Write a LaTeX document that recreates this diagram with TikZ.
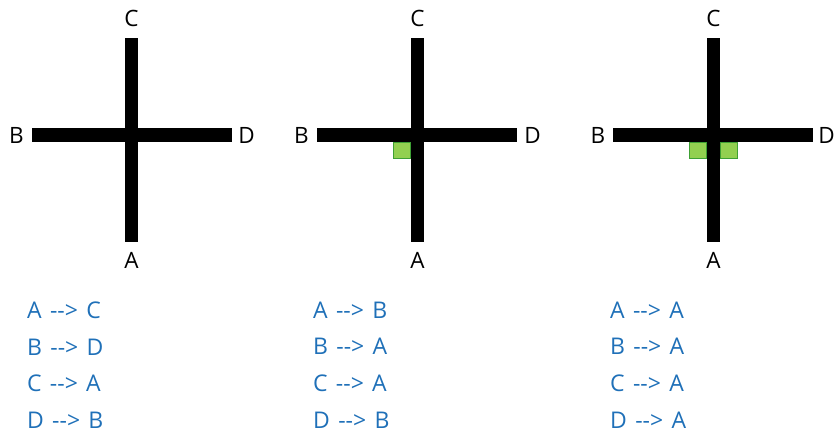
\documentclass[tikz,border=0pt]{standalone}
\usepackage{fontspec}
\setmainfont{Open Sans}[Ligatures=TeXOff]
\usepackage{xcolor}
\usetikzlibrary{positioning}

\definecolor{ruleblue}{RGB}{31,112,184}
\definecolor{markgreen}{RGB}{146,208,80}
\definecolor{markedge}{RGB}{62,160,52}

\begin{document}
\begin{tikzpicture}[
    x=1pt, y=-1pt,
    % === STYLES ===
    vbar/.style={
        rectangle,
        fill=black,
        inner sep=0pt,
        minimum width=13pt,
        minimum height=204pt
    },
    hbar/.style={
        rectangle,
        fill=black,
        inner sep=0pt,
        minimum width=200pt,
        minimum height=14pt
    },
    endlabel/.style={
        inner sep=0pt,
        font=\fontsize{22.5}{26}\selectfont
    },
    turnmark/.style={
        rectangle,
        draw=markedge,
        fill=markgreen,
        line width=0.8pt,
        inner sep=0pt,
        minimum width=17pt,
        minimum height=16pt
    },
    rulelist/.style={
        inner sep=0pt,
        anchor=north west,
        align=left,
        color=ruleblue,
        font={\fontsize{23}{36.7}\selectfont\spaceskip=0.36em\relax}
    }
]
\useasboundingbox (0,0) rectangle (834,435);

% === CROSS 1: NO TURN ===
\node[vbar] (v1) at (131.5,140) {};
\node[hbar] (h1) at (132,135) {};
\node[endlabel, above=11pt of v1] (c1C) {C};
\node[endlabel, below=10pt of v1] (c1A) {A};
\node[endlabel, left=8pt of h1] (c1B) {B};
\node[endlabel, right=6pt of h1] (c1D) {D};

% === CROSS 2: ONE TURN ===
\node[vbar] (v2) at (417.5,140) {};
\node[hbar] (h2) at (417,135) {};
\node[endlabel, above=11pt of v2] (c2C) {C};
\node[endlabel, below=10pt of v2] (c2A) {A};
\node[endlabel, left=8pt of h2] (c2B) {B};
\node[endlabel, right=7pt of h2] (c2D) {D};
\node[turnmark, anchor=north east] (m2) at (v2.west |- h2.south) {};

% === CROSS 3: TWO TURNS ===
\node[vbar] (v3) at (713.5,140) {};
\node[hbar] (h3) at (713,135) {};
\node[endlabel, above=11pt of v3] (c3C) {C};
\node[endlabel, below=10pt of v3] (c3A) {A};
\node[endlabel, left=7.5pt of h3] (c3B) {B};
\node[endlabel, right=5pt of h3] (c3D) {D};
\node[turnmark, anchor=north east] (m3l) at (v3.west |- h3.south) {};
\node[turnmark, anchor=north west] (m3r) at (v3.east |- h3.south) {};

% === ROUTING TABLES ===
\node[rulelist] (r1) at (27,301.5) {A --> C\\B --> D\\C --> A\\D --> B};
\node[rulelist] (r2) at (313,301.5) {A --> B\\B --> A\\C --> A\\D --> B};
\node[rulelist] (r3) at (610,301.5) {A --> A\\B --> A\\C --> A\\D --> A};

\end{tikzpicture}
\end{document}
